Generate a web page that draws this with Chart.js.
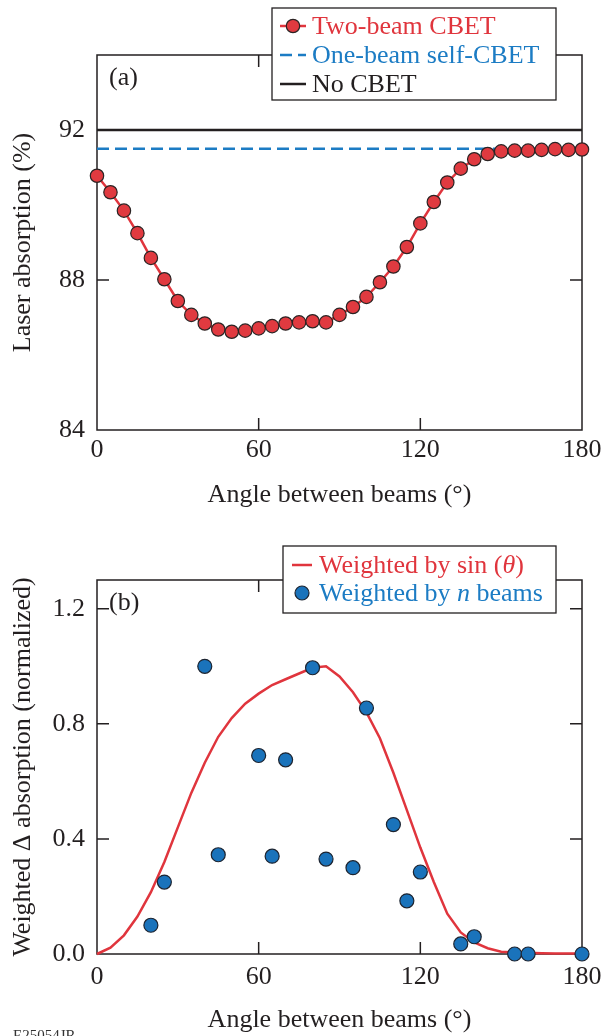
<!DOCTYPE html>
<html><head><meta charset="utf-8">
<script src="https://cdn.jsdelivr.net/npm/chart.js@4.4.1/dist/chart.umd.min.js"></script>
<style>
html,body{margin:0;padding:0;background:#fff;width:603px;height:1036px;overflow:hidden;position:relative;}
.wrap{position:absolute;left:0;width:603px;height:518px;}
#fig{position:absolute;left:13px;top:1026px;font:15px "Liberation Serif",serif;color:#333;line-height:18px;}
</style></head><body>
<div class="wrap" style="top:0"><canvas id="c1" width="603" height="518"></canvas></div>
<div class="wrap" style="top:518px"><canvas id="c2" width="603" height="518"></canvas></div>
<div id="fig">E25054JR</div>
<script>
// ---------- DATA ----------
const angles = [0,5,10,15,20,25,30,35,40,45,50,55,60,65,70,75,80,85,90,95,100,105,110,115,120,125,130,135,140,145,150,155,160,165,170,175,180];
const twoBeamCBET = [90.78,90.34,89.85,89.25,88.59,88.02,87.44,87.07,86.84,86.68,86.62,86.65,86.71,86.77,86.84,86.87,86.90,86.87,87.07,87.28,87.55,87.94,88.36,88.88,89.51,90.08,90.60,90.97,91.22,91.36,91.43,91.45,91.45,91.47,91.49,91.47,91.48];
const oneBeamSelfCBET = [91.5, 91.5];   // at angle range ends
const noCBET = [92, 92];
const levelAngles = [0, 180];
const xTickValues = [0, 60, 120, 180];
const yTicksA = [84, 88, 92];
const yTicksB = [0, 0.4, 0.8, 1.2];
const sinWeighted = [0.0,0.022,0.065,0.13,0.215,0.32,0.44,0.56,0.665,0.755,0.82,0.87,0.905,0.935,0.955,0.975,0.995,1.0,0.965,0.91,0.84,0.75,0.63,0.5,0.37,0.25,0.14,0.075,0.04,0.02,0.008,0.005,0.004,0.003,0.002,0.002,0.002];
const nBeamAngles = [20,25,40,45,60,65,70,80,85,95,100,110,115,120,135,140,155,160,180];
const nBeamValues = [0.10,0.25,1.00,0.345,0.69,0.34,0.675,0.995,0.33,0.30,0.855,0.45,0.185,0.285,0.035,0.06,0.0,0.0,0.0];
const legendA = [[['Two-beam CBET',0]],[['One-beam self-CBET',0]],[['No CBET',0]]];
const legendB = [[['Weighted by sin (',0],['θ',1],[')',0]],[['Weighted by ',0],['n',1],[' beams',0]]];

// ---------- STYLE ----------
const FONT = '"Liberation Serif","Times New Roman",serif';
const INK = '#231f20';
const RED = '#e0353d';
const BLUE = '#1c7cc4';
const BLUEPT = '#1a73bb';

const pts = (xs, ys) => xs.map((x, i) => ({x, y: ys[i]}));
const segText = segs => segs.map(s => s[0]).join('');

function drawRich(ctx, segs, x, y, color, size) {
  ctx.fillStyle = color; ctx.textBaseline = 'middle'; ctx.textAlign = 'left';
  for (const [t, it] of segs) {
    ctx.font = (it ? 'italic ' : '') + size + 'px ' + FONT;
    ctx.fillText(t, x, y);
    x += ctx.measureText(t).width;
  }
}

const framePlugin = {
  id: 'frame',
  beforeDatasetsDraw(chart) {
    const {ctx, chartArea: a, scales: {x, y}} = chart;
    ctx.save();
    ctx.strokeStyle = INK; ctx.lineWidth = 1.5;
    ctx.strokeRect(a.left, a.top, a.right - a.left, a.bottom - a.top);
    const L = 12;
    ctx.beginPath();
    x.ticks.forEach(t => {
      if (t.value <= x.min || t.value >= x.max) return;
      const p = x.getPixelForValue(t.value);
      ctx.moveTo(p, a.bottom); ctx.lineTo(p, a.bottom - L);
      ctx.moveTo(p, a.top); ctx.lineTo(p, a.top + L);
    });
    y.ticks.forEach(t => {
      if (t.value <= y.min || t.value >= y.max) return;
      const p = y.getPixelForValue(t.value);
      ctx.moveTo(a.left, p); ctx.lineTo(a.left + L, p);
      ctx.moveTo(a.right, p); ctx.lineTo(a.right - L, p);
    });
    ctx.stroke();
    ctx.restore();
  },
  afterDraw(chart) {
    const o = chart.options.plugins.frame;
    const {ctx} = chart;
    ctx.save();
    // panel label
    ctx.fillStyle = INK; ctx.font = '26px ' + FONT; ctx.textBaseline = 'middle'; ctx.textAlign = 'left';
    ctx.fillText(o.panel, o.panelX, o.panelY);
    // legend box
    const b = o.box;
    ctx.fillStyle = '#fff'; ctx.fillRect(b.l, b.t, b.w, b.h);
    ctx.strokeStyle = INK; ctx.lineWidth = 1.3; ctx.strokeRect(b.l, b.t, b.w, b.h);
    chart.data.datasets.forEach((ds, i) => {
      const yy = o.rows[i];
      const m = o.marker;
      const col = ds.legendColor;
      if (ds.showLine !== false) {
        ctx.save();
        ctx.strokeStyle = ds.borderColor; ctx.lineWidth = ds.borderWidth;
        ctx.setLineDash(ds.borderDash || []);
        ctx.beginPath(); ctx.moveTo(m.x0, yy); ctx.lineTo(m.x1, yy); ctx.stroke();
        ctx.restore();
      }
      if (ds.pointRadius > 0) {
        ctx.beginPath(); ctx.arc((m.x0 + m.x1) / 2, yy, ds.pointRadius, 0, Math.PI * 2);
        ctx.fillStyle = ds.pointBackgroundColor; ctx.fill();
        ctx.lineWidth = ds.pointBorderWidth; ctx.strokeStyle = ds.pointBorderColor; ctx.stroke();
      }
      drawRich(ctx, o.labels[i], o.textX, yy + 1, col, 26);
    });
    ctx.restore();
  }
};

function axisCfg(min, max, ticks, digits, title, tickPad, titlePad, extra) {
  return Object.assign({
    type: 'linear', min, max,
    afterBuildTicks: s => { s.ticks = ticks.map(v => ({value: v})); },
    grid: {display: false, drawTicks: false},
    border: {display: false},
    ticks: {font: {family: FONT, size: 26}, color: INK, autoSkip: false, maxRotation: 0,
            padding: tickPad, callback: v => Number(v).toFixed(digits)},
    title: {display: true, text: title, font: {family: FONT, size: 26}, color: INK, padding: titlePad}
  }, extra);
}

const fitX = h => s => { s.height = h; s.paddingLeft = 0; s.paddingRight = 0; };
const fitY = w => s => { s.width = w; s.paddingTop = 0; s.paddingBottom = 0; };

// ---------- CHART (a) ----------
new Chart(document.getElementById('c1'), {
  type: 'line',
  data: {
    datasets: [
      {label: segText(legendA[0]), data: pts(angles, twoBeamCBET), borderColor: RED, borderWidth: 2.5,
       pointRadius: 6.7, pointBackgroundColor: '#e03a40', pointBorderColor: '#2a2424', pointBorderWidth: 1.2,
       legendColor: RED, order: 0, clip: false},
      {label: segText(legendA[1]), data: pts(levelAngles, oneBeamSelfCBET), borderColor: BLUE, borderWidth: 2.5,
       borderDash: [12, 6], pointRadius: 0, legendColor: BLUE, order: 1},
      {label: segText(legendA[2]), data: pts(levelAngles, noCBET), borderColor: INK, borderWidth: 2.5,
       pointRadius: 0, legendColor: INK, order: 2}
    ]
  },
  options: {
    responsive: false, animation: false, devicePixelRatio: 1,
    layout: {padding: {top: 55, right: 21, left: 0, bottom: 0}},
    plugins: {legend: {display: false}, tooltip: {enabled: false},
      frame: {panel: '(a)', panelX: 109, panelY: 78,
        box: {l: 272, t: 8, w: 284, h: 92}, rows: [26, 55, 84],
        marker: {x0: 280, x1: 306}, textX: 312, labels: legendA}},
    scales: {
      x: axisCfg(0, 180, xTickValues, 0, 'Angle between beams (°)', 5, {top: 4, bottom: 7}, {
        afterFit: fitX(88) }),
      y: axisCfg(84, 94, yTicksA, 0, 'Laser absorption (%)', 12, {top: 8, bottom: 4}, {
        afterFit: fitY(97) })
    }
  },
  plugins: [framePlugin]
});

// ---------- CHART (b) ----------
new Chart(document.getElementById('c2'), {
  type: 'line',
  data: {
    datasets: [
      {label: segText(legendB[0]), data: pts(angles, sinWeighted), borderColor: RED, borderWidth: 2.5,
       pointRadius: 0, legendColor: RED, order: 1, clip: false},
      {label: segText(legendB[1]), data: pts(nBeamAngles, nBeamValues), showLine: false,
       borderColor: BLUEPT, pointRadius: 7, pointBackgroundColor: BLUEPT, pointBorderColor: '#1d2430',
       pointBorderWidth: 1.2, legendColor: BLUE, order: 0, clip: false}
    ]
  },
  options: {
    responsive: false, animation: false, devicePixelRatio: 1,
    layout: {padding: {top: 62, right: 21, left: 0, bottom: 0}},
    plugins: {legend: {display: false}, tooltip: {enabled: false},
      frame: {panel: '(b)', panelX: 109, panelY: 85,
        box: {l: 283, t: 28, w: 273, h: 67}, rows: [47, 75],
        marker: {x0: 292, x1: 312}, textX: 319, labels: legendB}},
    scales: {
      x: axisCfg(0, 180, xTickValues, 0, 'Angle between beams (°)', 8, {top: 4, bottom: 0}, {
        afterFit: fitX(82) }),
      y: axisCfg(0, 1.3, yTicksB, 1, 'Weighted Δ absorption (normalized)', 12, {top: 8, bottom: 4}, {
        afterFit: fitY(97) })
    }
  },
  plugins: [framePlugin]
});
</script>
</body></html>
